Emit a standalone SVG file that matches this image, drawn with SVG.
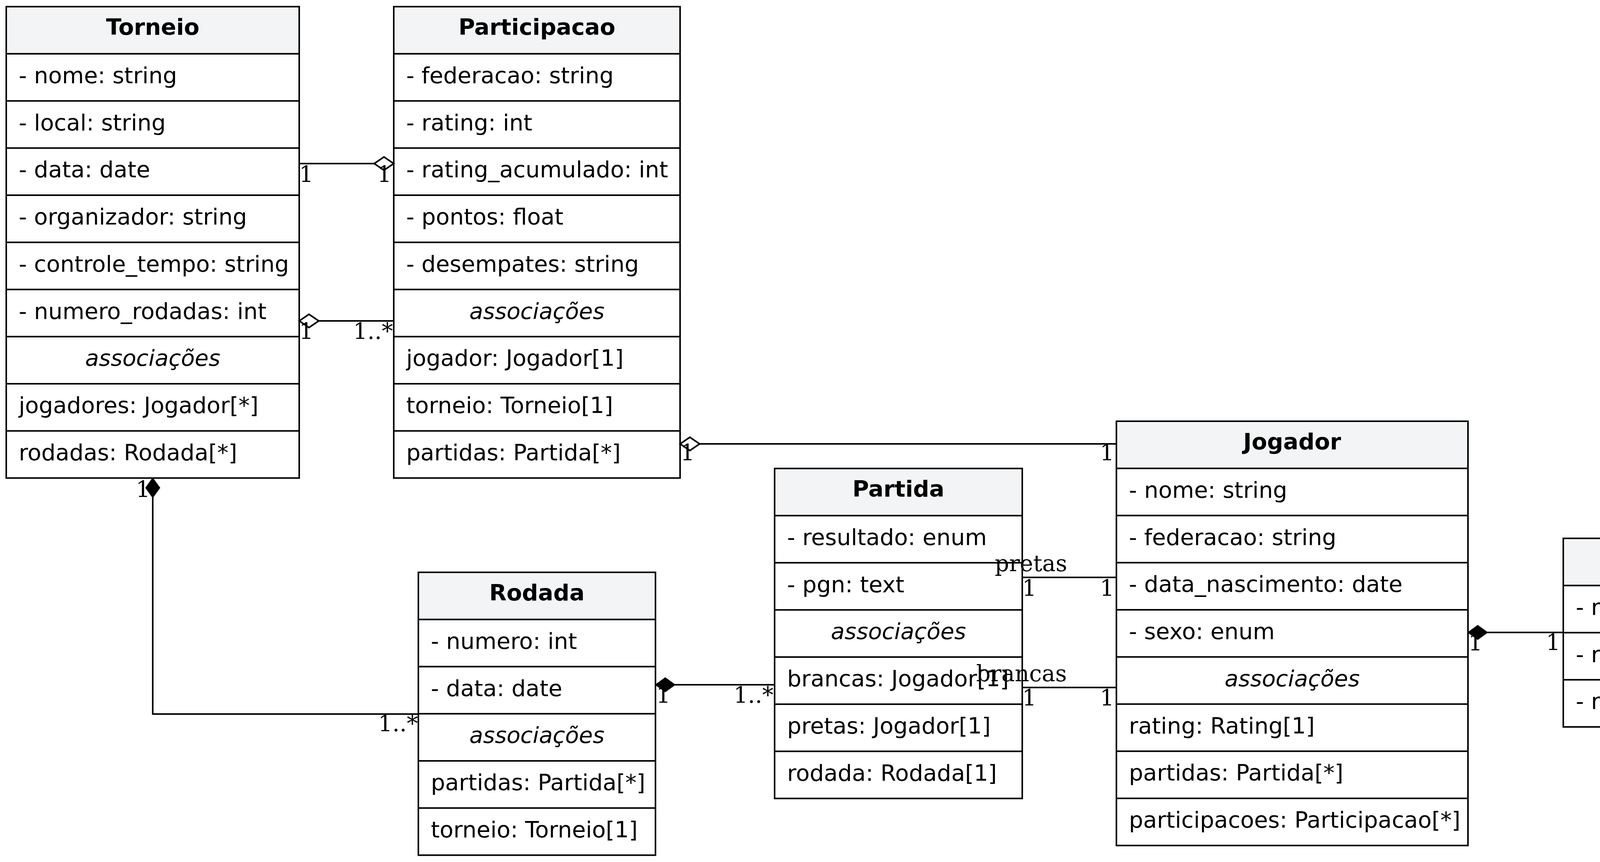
<svg xmlns="http://www.w3.org/2000/svg" width="4654" height="2208" viewBox="0 0 4654 2208">
<style>
  .box { fill: #ffffff; stroke: #000000; stroke-width: 4; }
  .hdr { fill: #f3f4f6; stroke: #000000; stroke-width: 4; }
  .sep { stroke: #000000; stroke-width: 4; }
  .t { font-family: "DejaVu Sans", sans-serif; font-size: 57.6px; fill: #000000; }
  .h { font-family: "DejaVu Sans", sans-serif; font-size: 57.6px; font-weight: bold; text-anchor: middle; fill: #000000; }
  .a { font-family: "DejaVu Sans", sans-serif; font-size: 57.6px; font-style: italic; text-anchor: middle; fill: #000000; }
  .edge { fill: none; stroke: #000000; stroke-width: 4; }
  .lbl { font-family: "DejaVu Serif", serif; font-size: 57.6px; fill: #000000; }
  .m { text-anchor: middle; }
  .e { text-anchor: end; }
</style>
<defs>
  <marker id="odiamond" viewBox="0 0 50 34" refX="50" refY="17" markerWidth="50" markerHeight="34" markerUnits="userSpaceOnUse" orient="auto" overflow="visible">
    <path d="M0,17 L25,0 L50,17 L25,34 Z" fill="#ffffff" stroke="#000000" stroke-width="4"/>
  </marker>
  <marker id="fdiamond" viewBox="0 0 50 36" refX="50" refY="18" markerWidth="50" markerHeight="36" markerUnits="userSpaceOnUse" orient="auto" overflow="visible">
    <path d="M0,18 L25,0 L50,18 L25,36 Z" fill="#000000" stroke="#000000" stroke-width="2"/>
  </marker>
</defs>
<rect width="4654" height="2208" fill="#ffffff"/>

<g id="Torneio">
  <rect class="box" x="16" y="17" width="750" height="1207.5"/>
  <rect class="hdr" x="16" y="17" width="750" height="120.75"/>
  <line class="sep" x1="16" y1="258.5" x2="766" y2="258.5"/>
  <line class="sep" x1="16" y1="379.25" x2="766" y2="379.25"/>
  <line class="sep" x1="16" y1="500" x2="766" y2="500"/>
  <line class="sep" x1="16" y1="620.75" x2="766" y2="620.75"/>
  <line class="sep" x1="16" y1="741.5" x2="766" y2="741.5"/>
  <line class="sep" x1="16" y1="862.25" x2="766" y2="862.25"/>
  <line class="sep" x1="16" y1="983" x2="766" y2="983"/>
  <line class="sep" x1="16" y1="1103.75" x2="766" y2="1103.75"/>
  <text class="h" x="391" y="89">Torneio</text>
  <text class="t" x="48" y="212.75">- nome: string</text>
  <text class="t" x="48" y="333.5">- local: string</text>
  <text class="t" x="48" y="454.25">- data: date</text>
  <text class="t" x="48" y="575">- organizador: string</text>
  <text class="t" x="48" y="695.75">- controle_tempo: string</text>
  <text class="t" x="48" y="816.5">- numero_rodadas: int</text>
  <text class="a" x="391" y="937.25">associações</text>
  <text class="t" x="48" y="1058">jogadores: Jogador[*]</text>
  <text class="t" x="48" y="1178.75">rodadas: Rodada[*]</text>
</g>

<g id="Participacao">
  <rect class="box" x="1008" y="17" width="733" height="1207.5"/>
  <rect class="hdr" x="1008" y="17" width="733" height="120.75"/>
  <line class="sep" x1="1008" y1="258.5" x2="1741" y2="258.5"/>
  <line class="sep" x1="1008" y1="379.25" x2="1741" y2="379.25"/>
  <line class="sep" x1="1008" y1="500" x2="1741" y2="500"/>
  <line class="sep" x1="1008" y1="620.75" x2="1741" y2="620.75"/>
  <line class="sep" x1="1008" y1="741.5" x2="1741" y2="741.5"/>
  <line class="sep" x1="1008" y1="862.25" x2="1741" y2="862.25"/>
  <line class="sep" x1="1008" y1="983" x2="1741" y2="983"/>
  <line class="sep" x1="1008" y1="1103.75" x2="1741" y2="1103.75"/>
  <text class="h" x="1374.5" y="89">Participacao</text>
  <text class="t" x="1040" y="212.75">- federacao: string</text>
  <text class="t" x="1040" y="333.5">- rating: int</text>
  <text class="t" x="1040" y="454.25">- rating_acumulado: int</text>
  <text class="t" x="1040" y="575">- pontos: float</text>
  <text class="t" x="1040" y="695.75">- desempates: string</text>
  <text class="a" x="1374.5" y="816.5">associações</text>
  <text class="t" x="1040" y="937.25">jogador: Jogador[1]</text>
  <text class="t" x="1040" y="1058">torneio: Torneio[1]</text>
  <text class="t" x="1040" y="1178.75">partidas: Partida[*]</text>
</g>

<g id="Jogador">
  <rect class="box" x="2858" y="1079" width="900" height="1086.75"/>
  <rect class="hdr" x="2858" y="1079" width="900" height="120.75"/>
  <line class="sep" x1="2858" y1="1320.5" x2="3758" y2="1320.5"/>
  <line class="sep" x1="2858" y1="1441.25" x2="3758" y2="1441.25"/>
  <line class="sep" x1="2858" y1="1562" x2="3758" y2="1562"/>
  <line class="sep" x1="2858" y1="1682.75" x2="3758" y2="1682.75"/>
  <line class="sep" x1="2858" y1="1803.5" x2="3758" y2="1803.5"/>
  <line class="sep" x1="2858" y1="1924.25" x2="3758" y2="1924.25"/>
  <line class="sep" x1="2858" y1="2045" x2="3758" y2="2045"/>
  <text class="h" x="3308" y="1151">Jogador</text>
  <text class="t" x="2890" y="1274.75">- nome: string</text>
  <text class="t" x="2890" y="1395.5">- federacao: string</text>
  <text class="t" x="2890" y="1516.25">- data_nascimento: date</text>
  <text class="t" x="2890" y="1637">- sexo: enum</text>
  <text class="a" x="3308" y="1757.75">associações</text>
  <text class="t" x="2890" y="1878.5">rating: Rating[1]</text>
  <text class="t" x="2890" y="1999.25">partidas: Partida[*]</text>
  <text class="t" x="2890" y="2120">participacoes: Participacao[*]</text>
</g>

<g id="Partida">
  <rect class="box" x="1983" y="1200" width="634" height="845.25"/>
  <rect class="hdr" x="1983" y="1200" width="634" height="120.75"/>
  <line class="sep" x1="1983" y1="1441.5" x2="2617" y2="1441.5"/>
  <line class="sep" x1="1983" y1="1562.25" x2="2617" y2="1562.25"/>
  <line class="sep" x1="1983" y1="1683" x2="2617" y2="1683"/>
  <line class="sep" x1="1983" y1="1803.75" x2="2617" y2="1803.75"/>
  <line class="sep" x1="1983" y1="1924.5" x2="2617" y2="1924.5"/>
  <text class="h" x="2300" y="1272">Partida</text>
  <text class="t" x="2015" y="1395.75">- resultado: enum</text>
  <text class="t" x="2015" y="1516.5">- pgn: text</text>
  <text class="a" x="2300" y="1637.25">associações</text>
  <text class="t" x="2015" y="1758">brancas: Jogador[1]</text>
  <text class="t" x="2015" y="1878.75">pretas: Jogador[1]</text>
  <text class="t" x="2015" y="1999.5">rodada: Rodada[1]</text>
</g>

<g id="Rodada">
  <rect class="box" x="1071" y="1466" width="607" height="724.5"/>
  <rect class="hdr" x="1071" y="1466" width="607" height="120.75"/>
  <line class="sep" x1="1071" y1="1707.5" x2="1678" y2="1707.5"/>
  <line class="sep" x1="1071" y1="1828.25" x2="1678" y2="1828.25"/>
  <line class="sep" x1="1071" y1="1949" x2="1678" y2="1949"/>
  <line class="sep" x1="1071" y1="2069.75" x2="1678" y2="2069.75"/>
  <text class="h" x="1374.5" y="1538">Rodada</text>
  <text class="t" x="1103" y="1661.75">- numero: int</text>
  <text class="t" x="1103" y="1782.5">- data: date</text>
  <text class="a" x="1374.5" y="1903.25">associações</text>
  <text class="t" x="1103" y="2024">partidas: Partida[*]</text>
  <text class="t" x="1103" y="2144.75">torneio: Torneio[1]</text>
</g>

<g id="Rating">
  <rect class="box" x="4002" y="1379" width="637" height="483"/>
  <rect class="hdr" x="4002" y="1379" width="637" height="120.75"/>
  <line class="sep" x1="4002" y1="1620.5" x2="4639" y2="1620.5"/>
  <line class="sep" x1="4002" y1="1741.25" x2="4639" y2="1741.25"/>
  <text class="h" x="4320.5" y="1451">Rating</text>
  <text class="t" x="4034" y="1574.75">- rating_classico: int</text>
  <text class="t" x="4034" y="1695.5">- rating_rapido: int</text>
  <text class="t" x="4034" y="1816.25">- rating_blitz: int</text>
</g>

<g id="connectors">
  <path class="edge" d="M766,419 L1008,419" marker-end="url(#odiamond)"/>
  <path class="edge" d="M1008,822 L766,822" marker-end="url(#odiamond)"/>
  <path class="edge" d="M2858,1137 L1741,1137" marker-end="url(#odiamond)"/>
  <path class="edge" d="M1071,1829 L391,1829 L391,1224.5" marker-end="url(#fdiamond)"/>
  <path class="edge" d="M1983,1754 L1678,1754" marker-end="url(#fdiamond)"/>
  <path class="edge" d="M2617,1479 L2858,1479"/>
  <path class="edge" d="M2617,1761 L2858,1761"/>
  <path class="edge" d="M4002,1620 L3758,1620" marker-end="url(#fdiamond)"/>

  <text class="lbl m" x="784" y="466">1</text>
  <text class="lbl m" x="984" y="466">1</text>
  <text class="lbl m" x="784" y="868">1</text>
  <text class="lbl e" x="1006" y="868">1..*</text>
  <text class="lbl m" x="1760" y="1179">1</text>
  <text class="lbl m" x="2834" y="1179">1</text>
  <text class="lbl m" x="366" y="1273">1</text>
  <text class="lbl e" x="1070" y="1873">1..*</text>
  <text class="lbl m" x="1698" y="1800">1</text>
  <text class="lbl e" x="1980" y="1800">1..*</text>
  <text class="lbl e" x="2732" y="1463">pretas</text>
  <text class="lbl m" x="2635" y="1526">1</text>
  <text class="lbl m" x="2834" y="1526">1</text>
  <text class="lbl e" x="2731" y="1745">brancas</text>
  <text class="lbl m" x="2635" y="1807">1</text>
  <text class="lbl m" x="2834" y="1807">1</text>
  <text class="lbl m" x="3777" y="1666">1</text>
  <text class="lbl m" x="3976" y="1665">1</text>
</g>
</svg>
